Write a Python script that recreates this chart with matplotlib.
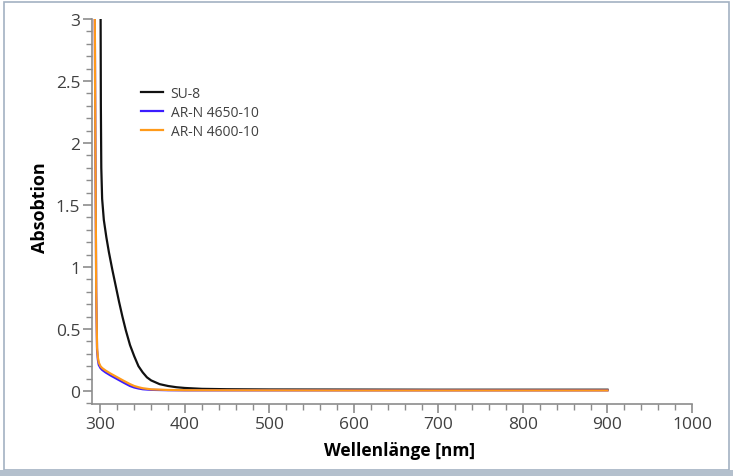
import matplotlib
matplotlib.use("Agg")
import matplotlib.pyplot as plt
from matplotlib.ticker import MultipleLocator
from matplotlib.patches import Rectangle

plt.rcParams['font.family'] = ['Open Sans', 'DejaVu Sans']

# SU-8
su8_nm = [300, 300.5, 301, 302, 304, 307, 310, 314, 318, 322, 326, 330, 335, 340,
          345, 350, 355, 360, 370, 380, 390, 400, 420, 450, 500, 600, 700, 800, 900]
su8_abs = [3.5, 2.3, 1.8, 1.55, 1.38, 1.24, 1.12, 0.98, 0.85, 0.72, 0.6, 0.49, 0.37, 0.28,
           0.2, 0.15, 0.11, 0.085, 0.055, 0.04, 0.03, 0.024, 0.017, 0.014, 0.012,
           0.011, 0.01, 0.01, 0.01]

# AR-N 4650-10
ar4650_nm = [293, 294, 295, 296, 297, 298, 300, 302, 306, 312, 320, 328, 335,
             340, 345, 350, 360, 380, 400, 500, 600, 700, 800, 900]
ar4650_abs = [3.5, 2.0, 0.8, 0.33, 0.25, 0.21, 0.185, 0.17, 0.15, 0.125, 0.095,
              0.065, 0.04, 0.028, 0.02, 0.014, 0.009, 0.006, 0.005, 0.005, 0.005,
              0.005, 0.005, 0.005]

# AR-N 4600-10
ar4600_nm = [293, 294, 295, 296, 297, 298, 300, 302, 306, 312, 320, 328, 335,
             340, 345, 350, 360, 380, 400, 500, 600, 700, 800, 900]
ar4600_abs = [3.5, 2.0, 0.8, 0.35, 0.27, 0.23, 0.2, 0.185, 0.165, 0.14, 0.11,
              0.08, 0.055, 0.04, 0.03, 0.022, 0.013, 0.008, 0.006, 0.005, 0.004,
              0.004, 0.004, 0.004]

fig = plt.figure(figsize=(7.33, 4.77), dpi=100)
ax = fig.add_axes([0.1255, 0.151, 0.8185, 0.807])

ax.plot(su8_nm, su8_abs, color='#111111', lw=1.6, label='SU-8')
ax.plot(ar4650_nm, ar4650_abs, color='#3b1cff', lw=1.6, label='AR-N 4650-10')
ax.plot(ar4600_nm, ar4600_abs, color='#ff9a1a', lw=1.6, label='AR-N 4600-10')

ax.set_xlim(290, 1000)
ax.set_ylim(-0.105, 3)
ax.xaxis.set_major_locator(MultipleLocator(100))
ax.xaxis.set_minor_locator(MultipleLocator(20))
ax.yaxis.set_major_locator(MultipleLocator(0.5))
ax.yaxis.set_minor_locator(MultipleLocator(0.1))
ax.set_yticks([0, 0.5, 1, 1.5, 2, 2.5, 3])
ax.set_yticklabels(['0', '0.5', '1', '1.5', '2', '2.5', '3'])

for s in ['top', 'right']:
    ax.spines[s].set_visible(False)
for s in ['left', 'bottom']:
    ax.spines[s].set_color('#8c8c8c')
    ax.spines[s].set_linewidth(1.2)
ax.tick_params(which='major', length=6.5, width=1.2, color='#8c8c8c',
               labelsize=12.5, labelcolor='#404040', pad=2)
ax.tick_params(which='minor', length=4.5, width=1.0, color='#8c8c8c')

ax.set_xlabel('Wellenlänge [nm]', fontsize=12.5, fontweight='bold')
ax.xaxis.set_label_coords(0.513, -0.097)
ax.set_ylabel('Absobtion', fontsize=13, fontweight='bold')
ax.yaxis.set_label_coords(-0.071, 0.513)

leg = ax.legend(loc='upper left', bbox_to_anchor=(0.072, 0.841), frameon=False,
                fontsize=10, handlelength=1.6, handletextpad=0.55, labelspacing=0.3,
                borderaxespad=0)
for t in leg.get_texts():
    t.set_color('#404040')

# frame around the figure
fig.patches.append(Rectangle((4 / 733, 6 / 477), 725 / 733, 468 / 477,
                             transform=fig.transFigure, fill=False,
                             edgecolor='#a3b1c2', lw=1.2))
fig.patches.append(Rectangle((0, 0), 1, 6 / 477, transform=fig.transFigure,
                             facecolor='#b4c0cd', edgecolor='none'))

fig.savefig('out.png', dpi=100)
